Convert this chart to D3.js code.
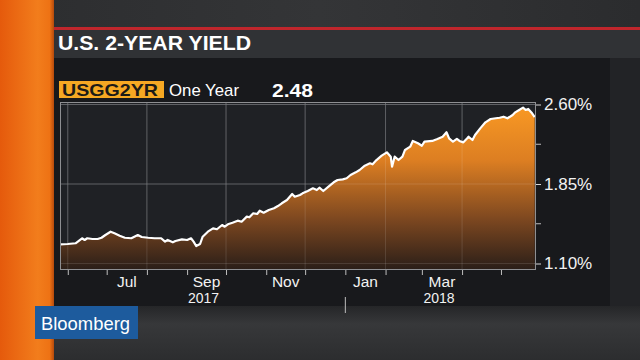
<!DOCTYPE html>
<html><head><meta charset="utf-8">
<script src="https://cdn.jsdelivr.net/npm/d3@7/dist/d3.min.js"></script>
<style>html,body{margin:0;padding:0;background:#2b2c2e;overflow:hidden}svg{display:block}</style>
</head><body>
<script>
const title = "U.S. 2-YEAR YIELD";
const ticker = "USGG2YR";
const period = "One Year";
const lastValue = "2.48";
const yTicks = [1.10, 1.85, 2.60];
const yMinorTicks = [1.475, 2.225];
const yearLabels = [{label:"2017", month:"2017-09-01"}, {label:"2018", month:"2018-03-01"}];
const dates = ["2017-05-26","2017-06-01","2017-06-07","2017-06-12","2017-06-14","2017-06-16","2017-06-20","2017-06-24","2017-06-27","2017-06-30",
"2017-07-04","2017-07-07","2017-07-11","2017-07-15","2017-07-20","2017-07-25","2017-07-28","2017-08-02","2017-08-07","2017-08-12",
"2017-08-15","2017-08-17","2017-08-21","2017-08-23","2017-08-28","2017-09-01","2017-09-04","2017-09-06","2017-09-08","2017-09-11",
"2017-09-13","2017-09-17","2017-09-21","2017-09-24","2017-09-28","2017-09-30","2017-10-03","2017-10-06","2017-10-10","2017-10-13",
"2017-10-17","2017-10-19","2017-10-22","2017-10-25","2017-10-27","2017-10-30","2017-11-03","2017-11-07","2017-11-10","2017-11-13",
"2017-11-17","2017-11-21","2017-11-23","2017-11-27","2017-11-29","2017-12-03","2017-12-07","2017-12-10","2017-12-12","2017-12-15",
"2017-12-19","2017-12-23","2017-12-26","2017-12-30","2018-01-02","2018-01-05","2018-01-09","2018-01-12","2018-01-16","2018-01-20",
"2018-01-22","2018-01-25","2018-01-29","2018-02-02","2018-02-05","2018-02-06","2018-02-08","2018-02-11","2018-02-14","2018-02-16",
"2018-02-20","2018-02-22","2018-02-26","2018-03-01","2018-03-03","2018-03-09","2018-03-13","2018-03-17","2018-03-20","2018-03-22",
"2018-03-25","2018-03-28","2018-03-30","2018-04-02","2018-04-05","2018-04-06","2018-04-09","2018-04-11","2018-04-15","2018-04-19",
"2018-04-23","2018-04-27","2018-04-30","2018-05-03","2018-05-06","2018-05-10","2018-05-12","2018-05-15","2018-05-18","2018-05-20",
"2018-05-22","2018-05-25","2018-05-27"];
const yields = [1.281,1.284,1.291,1.338,1.322,1.338,1.331,1.331,1.343,1.369,
1.400,1.385,1.362,1.343,1.338,1.369,1.350,1.343,1.338,1.338,
1.306,1.322,1.300,1.312,1.328,1.322,1.338,1.306,1.265,1.284,
1.353,1.400,1.432,1.423,1.463,1.447,1.473,1.485,1.504,1.494,
1.542,1.536,1.574,1.567,1.598,1.579,1.605,1.621,1.642,1.668,
1.699,1.756,1.730,1.746,1.762,1.784,1.809,1.793,1.815,1.784,
1.825,1.866,1.888,1.894,1.904,1.935,1.960,1.982,2.023,2.045,
2.036,2.076,2.117,2.149,2.108,2.013,2.108,2.076,2.108,2.171,
2.202,2.256,2.234,2.211,2.249,2.256,2.275,2.296,2.338,2.281,
2.249,2.275,2.256,2.243,2.281,2.296,2.265,2.312,2.375,2.432,
2.463,2.470,2.475,2.485,2.470,2.501,2.526,2.548,2.570,2.548,
2.558,2.517,2.480];

const W = 640, H = 360;
const FONT = "Liberation Sans, Arial, sans-serif";
const parse = d3.timeParse("%Y-%m-%d");
const data = dates.map((d,i)=>({date:parse(d), v:yields[i]}));

const svg = d3.select("body").append("svg").attr("width",W).attr("height",H);
const defs = svg.append("defs");

const og = defs.append("linearGradient").attr("id","orange").attr("x1",0).attr("x2",1).attr("y1",0).attr("y2",0);
og.append("stop").attr("offset","0%").attr("stop-color","#e55a0c");
og.append("stop").attr("offset","70%").attr("stop-color","#f27d1c");
og.append("stop").attr("offset","92%").attr("stop-color","#ee7214");
og.append("stop").attr("offset","100%").attr("stop-color","#b64a0c");

const bg = defs.append("linearGradient").attr("id","bgtop").attr("x1",0).attr("x2",1).attr("y1",0).attr("y2",0);
bg.append("stop").attr("offset","0%").attr("stop-color","#2c2d2f");
bg.append("stop").attr("offset","50%").attr("stop-color","#343537");
bg.append("stop").attr("offset","100%").attr("stop-color","#2b2c2e");

const bot = defs.append("linearGradient").attr("id","bgbot").attr("x1",0).attr("x2",0).attr("y1",0).attr("y2",1);
bot.append("stop").attr("offset","0%").attr("stop-color","#1f2022");
bot.append("stop").attr("offset","40%").attr("stop-color","#37383a");
bot.append("stop").attr("offset","100%").attr("stop-color","#2c2d2f");

const plotTop = 102, plotBottom = 270, plotLeft = 60, plotRight = 536;

const ag = defs.append("linearGradient").attr("id","area").attr("gradientUnits","userSpaceOnUse")
  .attr("x1",0).attr("x2",0).attr("y1",plotTop).attr("y2",plotBottom);
ag.append("stop").attr("offset","0%").attr("stop-color","#fb9b24");
ag.append("stop").attr("offset","35%").attr("stop-color","#dc7e22");
ag.append("stop").attr("offset","70%").attr("stop-color","#7c4720");
ag.append("stop").attr("offset","100%").attr("stop-color","#2a1e18");

svg.append("rect").attr("width",W).attr("height",H).attr("fill","#2b2c2e");
svg.append("rect").attr("x",0).attr("y",0).attr("width",W).attr("height",28).attr("fill","url(#bgtop)");
svg.append("rect").attr("x",53).attr("y",300).attr("width",W-53).attr("height",60).attr("fill","url(#bgbot)");
svg.append("rect").attr("x",53).attr("y",58).attr("width",557).attr("height",248).attr("fill","#18191c");
svg.append("rect").attr("x",610).attr("y",58).attr("width",30).attr("height",248).attr("fill","#222326");
svg.append("rect").attr("x",53).attr("y",30).attr("width",W-53).attr("height",28).attr("fill","#303235");
svg.append("rect").attr("x",53).attr("y",27).attr("width",W-53).attr("height",3).attr("fill","#c0262c");
svg.append("rect").attr("x",0).attr("y",0).attr("width",54).attr("height",H).attr("fill","url(#orange)");

svg.append("text").attr("x",58).attr("y",50).text(title)
  .attr("font-family",FONT).attr("font-weight","bold")
  .attr("font-size",21).attr("fill","#ffffff").attr("textLength",193).attr("lengthAdjust","spacingAndGlyphs");

svg.append("rect").attr("x",59).attr("y",81).attr("width",105).attr("height",17).attr("fill","#f6a823");
svg.append("text").attr("x",62).attr("y",96).text(ticker)
  .attr("font-family",FONT).attr("font-weight","bold")
  .attr("font-size",17).attr("fill","#1c1a17").attr("textLength",96).attr("lengthAdjust","spacingAndGlyphs");
svg.append("text").attr("x",169).attr("y",96).text(period)
  .attr("font-family",FONT)
  .attr("font-size",17).attr("fill","#ffffff").attr("textLength",70).attr("lengthAdjust","spacingAndGlyphs");
svg.append("text").attr("x",272).attr("y",96.5).text(lastValue)
  .attr("font-family",FONT).attr("font-weight","bold")
  .attr("font-size",18).attr("fill","#ffffff").attr("textLength",41).attr("lengthAdjust","spacingAndGlyphs");

const x = d3.scaleTime().domain([parse("2017-05-26"), parse("2018-05-28")]).range([plotLeft, plotRight]);
const y = d3.scaleLinear().domain([1.10, 2.60]).range([263.5, 104.5]);

svg.append("rect").attr("x",plotLeft).attr("y",plotTop).attr("width",plotRight-plotLeft).attr("height",plotBottom-plotTop).attr("fill","#1f2125");

const months = d3.timeMonth.range(d3.timeMonth.ceil(x.domain()[0]), x.domain()[1]);
const gridMonths = months.filter(m=>m.getMonth()%2===1);
function grid(color, op){
  svg.append("g").selectAll("line").data(gridMonths).join("line")
    .attr("x1",d=>x(d)).attr("x2",d=>x(d)).attr("y1",plotTop).attr("y2",plotBottom)
    .attr("stroke",color).attr("stroke-opacity",op).attr("stroke-width",1);
  svg.append("g").selectAll("line").data(yTicks).join("line")
    .attr("x1",plotLeft).attr("x2",plotRight).attr("y1",d=>y(d)).attr("y2",d=>y(d))
    .attr("stroke",color).attr("stroke-opacity",op).attr("stroke-width",1);
}
grid("#4a4c50",1);

const area = d3.area().x(d=>x(d.date)).y0(plotBottom).y1(d=>y(d.v));
const line = d3.line().x(d=>x(d.date)).y(d=>y(d.v));
svg.append("path").datum(data).attr("d",area).attr("fill","url(#area)");
grid("#ffffff",0.12);
svg.append("path").datum(data).attr("d",line).attr("fill","none").attr("stroke","#ffffff")
  .attr("stroke-width",2.2).attr("stroke-linejoin","round");

svg.append("rect").attr("x",plotLeft+0.5).attr("y",plotTop+0.5).attr("width",plotRight-plotLeft-1).attr("height",plotBottom-plotTop-1)
  .attr("fill","none").attr("stroke","#8e8f92").attr("stroke-width",1);

const yAxis = d3.axisRight(y).tickValues(yTicks).tickSize(5).tickPadding(3).tickFormat(d=>d3.format(".2f")(d)+"%");
const yg = svg.append("g").attr("transform",`translate(${plotRight},0)`).call(yAxis);
yg.select(".domain").remove();
yg.selectAll(".tick line").attr("stroke","#d8d8d8");
yg.selectAll(".tick text").attr("fill","#f2f2f2").attr("font-size",17).attr("font-family",FONT);
svg.append("g").selectAll("line").data(yMinorTicks).join("line")
  .attr("x1",plotRight).attr("x2",plotRight+5).attr("y1",d=>y(d)).attr("y2",d=>y(d)).attr("stroke","#bdbdbd");

const xAxis = d3.axisBottom(x).tickValues(months).tickSize(5).tickFormat("");
const xg = svg.append("g").attr("transform",`translate(0,${plotBottom})`).call(xAxis);
xg.select(".domain").remove();
xg.selectAll(".tick line").attr("stroke","#bdbdbd");

const labelMonths = months.filter(m=>m.getMonth()%2===0 && d3.timeMonth.offset(m,1) <= x.domain()[1]);
svg.append("g").selectAll("text").data(labelMonths).join("text")
  .attr("x",d=>(x(d)+x(d3.timeMonth.offset(d,1)))/2).attr("y",287).attr("text-anchor","middle")
  .text(d=>d3.timeFormat("%b")(d))
  .attr("fill","#f2f2f2").attr("font-size",15.5).attr("font-family",FONT);
svg.append("g").selectAll("text").data(yearLabels).join("text")
  .attr("x",d=>{const m=parse(d.month);return (x(m)+x(d3.timeMonth.offset(m,1)))/2-3;}).attr("y",303).attr("text-anchor","middle")
  .text(d=>d.label)
  .attr("fill","#f2f2f2").attr("font-size",14).attr("font-family",FONT);
const yearStart = d3.timeYear.ceil(x.domain()[0]);
svg.append("line").attr("x1",x(yearStart)).attr("x2",x(yearStart)).attr("y1",297).attr("y2",313)
  .attr("stroke","#bdbdbd").attr("stroke-width",1);

svg.append("rect").attr("x",35).attr("y",306).attr("width",103).attr("height",33).attr("fill","#1d5b9d");
svg.append("text").attr("x",41).attr("y",330).text("Bloomberg")
  .attr("font-family",FONT).attr("font-size",19)
  .attr("fill","#ffffff").attr("textLength",89).attr("lengthAdjust","spacingAndGlyphs");
</script>
</body></html>
